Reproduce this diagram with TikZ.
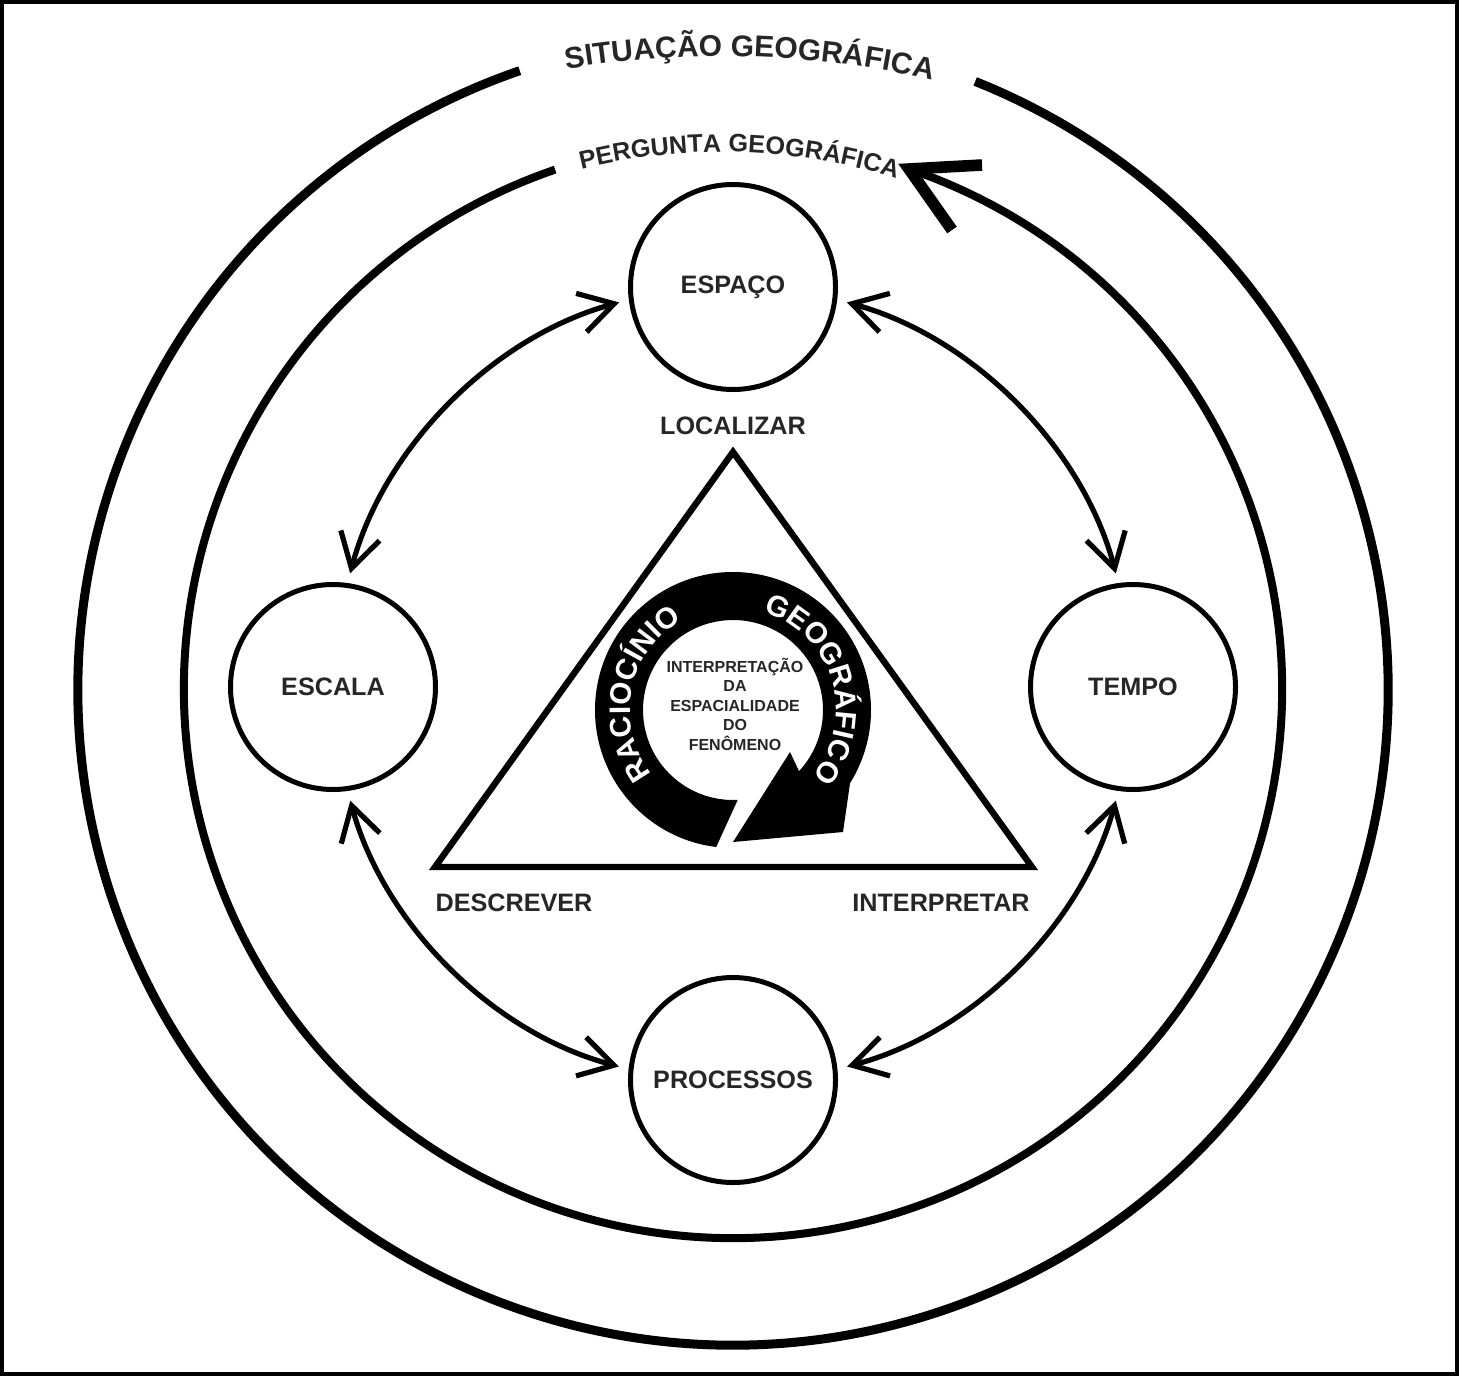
\documentclass[tikz,border=0pt]{standalone}
\usepackage{fontspec}
\setmainfont{Liberation Sans}
\usetikzlibrary{arrows.meta,decorations.text}
\definecolor{txt}{gray}{0.15}
\newcommand\situfont{\fontsize{15}{15}\selectfont\bfseries}
\newcommand\pergfont{\fontsize{12.6}{13}\selectfont\bfseries}
\newcommand\bandfont{\fontsize{14.8}{14.8}\selectfont\bfseries}
\begin{document}
\begin{tikzpicture}[x=0.5pt,y=0.5pt,
  bubble/.style={circle, draw, line width=2.5pt, minimum size=102.5pt, inner sep=0pt,
    font=\fontsize{12.6}{15}\selectfont\bfseries, text=txt},
  lab/.style={font=\fontsize{12.6}{15}\selectfont\bfseries, text=txt, inner sep=0pt},
  link/.style={line width=2.6pt,
    {Straight Barb[length=17pt,width=20pt,sharp]}-{Straight Barb[length=17pt,width=20pt,sharp]},
    shorten <=5pt, shorten >=5pt},
  ring/.style={line width=#1, line cap=butt}
]
\useasboundingbox (0,0) rectangle (1459,-1376);
% frame
\draw[line width=2.2pt] (2.2,-2.2) rectangle (1456.8,-1373.8);

% outer circle (situacao)
\begin{scope}[shift={(733,-690)}]
  \draw[ring=4.5pt] (109:655) arc[start angle=109, end angle=428.3, radius=655];
\end{scope}
\begin{scope}[shift={(722,-989)}]
  \path[decorate, decoration={text along path, text={|\situfont|SITUAÇÃO GEOGRÁFICA},
     text align=center, text color=txt}]
     (103.3:933) arc[start angle=103.3, end angle=73.3, radius=933];
\end{scope}

% inner circle (pergunta) with arrow
\begin{scope}[shift={(733,-689)}]
  \draw[ring=4pt] (108.9:549) arc[start angle=108.9, end angle=431.3, radius=549];
  \coordinate (ptip) at (71.3:549);
\end{scope}
\draw[line width=5.8pt, line join=miter, line cap=butt] ([shift={(73,4)}]ptip) -- (ptip) -- ([shift={(43,-61)}]ptip);
\begin{scope}[shift={(722,-742)}]
  \path[decorate, decoration={text along path, text={|\pergfont|PERGUNTA GEOGRÁFICA},
     text align=center, text color=txt}]
     (110.3:590) arc[start angle=110.3, end angle=66.3, radius=590];
\end{scope}

% four concept circles
\node[bubble] (esp) at (733,-287) {ESPAÇO};
\node[bubble] (esc) at (333,-687) {ESCALA};
\node[bubble] (tem) at (1133,-687) {TEMPO};
\node[bubble] (pro) at (733,-1080) {PROCESSOS};

\draw[link] (esp.187) to[bend right=30, looseness=0.9] (esc.82);
\draw[link] (esp.-7) to[bend left=30, looseness=0.9] (tem.98);
\draw[link] (esc.-82) to[bend right=30, looseness=0.9] (pro.174);
\draw[link] (tem.-98) to[bend left=30, looseness=0.9] (pro.6);

% triangle
\coordinate (tA) at (733,-452);
\coordinate (tB) at (435,-867);
\coordinate (tC) at (1032,-867);
\draw[line width=3.2pt, line join=miter] (tA) -- (tB) -- (tC) -- cycle;
\node[lab] (loc) at (733,-426) {LOCALIZAR};
\node[lab] (des) at (514,-903) {DESCREVER};
\node[lab] (int) at (941,-903) {INTERPRETAR};

% central circular arrow
\begin{scope}[shift={(733,-710)}]
  \fill (-87:90) -- (-97:138) arc[start angle=-97, end angle=-392, radius=138]
     -- (110,-122) -- (0,-132) -- (57,-42) -- (-42.8:90)
     arc[start angle=-402.8, end angle=-87, radius=90] -- cycle;
  \path[decorate, decoration={text along path, text={|\bandfont|RACIOCÍNIO},
     text align=center, text color=white}]
     (229:103) arc[start angle=229, end angle=109, radius=103];
  \path[decorate, decoration={text along path, text={|\bandfont|GEOGRÁFICO},
     text align=center, text color=white}]
     (81.5:103) arc[start angle=81.5, end angle=-48.5, radius=103];
\end{scope}
\node[align=center, font=\fontsize{8}{9.75}\selectfont\bfseries, text=txt, inner sep=0pt]
  (interp) at (735,-704) {INTERPRETAÇÃO\\DA\\ESPACIALIDADE\\DO\\FENÔMENO};
\end{tikzpicture}
\end{document}
